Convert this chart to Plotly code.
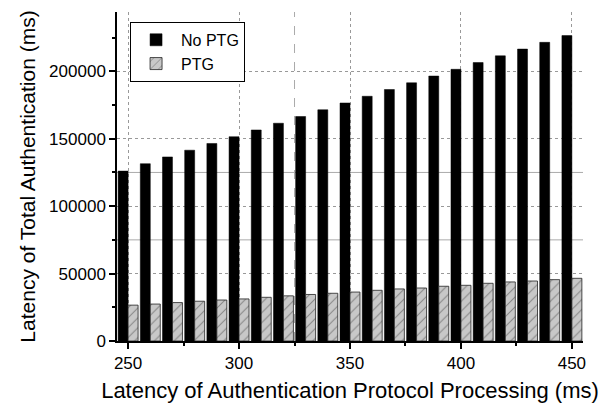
import plotly.graph_objects as go

x_vals = [250, 260, 270, 280, 290, 300, 310, 320, 330, 340, 350,
          360, 370, 380, 390, 400, 410, 420, 430, 440, 450]
no_ptg = [126000, 131500, 136500, 141500, 146500, 151500, 156500, 161500,
          166500, 171500, 176500, 181500, 186500, 191500, 196500, 201500,
          206500, 211500, 216500, 221500, 226500]
ptg = [26600, 27400, 28500, 29500, 30400, 31200, 32400, 33500, 34500,
       35400, 36300, 37600, 38600, 39300, 40600, 41300, 42800, 43800,
       44500, 45500, 46500]

x_ticks = [250, 300, 350, 400, 450]
y_ticks = [0, 50000, 100000, 150000, 200000]

FONT = "Liberation Sans"

fig = go.Figure()
fig.add_trace(go.Bar(
    x=x_vals, y=no_ptg, name="No PTG",
    marker=dict(color="black", line=dict(color="black", width=0.5)),
))
fig.add_trace(go.Bar(
    x=x_vals, y=ptg, name="PTG",
    marker=dict(
        color="#c8c8c8",
        line=dict(color="#222222", width=0.8),
        pattern=dict(shape="/", fgcolor="#444444", bgcolor="#c8c8c8",
                     size=7, solidity=0.15, fillmode="overlay"),
    ),
))

# extra faint reference lines seen in the original
for yv in [75000, 125000]:
    fig.add_shape(type="line", xref="paper", x0=0, x1=1, yref="y", y0=yv, y1=yv,
                  line=dict(color="#aaaaaa", width=1), layer="below")
fig.add_shape(type="line", xref="x", x0=325, x1=325, yref="paper", y0=0, y1=1,
              line=dict(color="#aaaaaa", width=1, dash="dash"), layer="below")

fig.update_layout(
    width=602, height=395,
    margin=dict(l=109, r=27, t=4, b=62, autoexpand=False),
    paper_bgcolor="white", plot_bgcolor="white",
    barmode="group", bargap=0.1, bargroupgap=0,
    font=dict(family=FONT, color="black", size=17),
    showlegend=True,
    legend=dict(
        x=0.028, y=0.97, xanchor="left", yanchor="top",
        bordercolor="black", borderwidth=1, bgcolor="white",
        font=dict(size=16, family=FONT), tracegroupgap=0,
        itemwidth=40,
    ),
    xaxis=dict(
        range=[245, 455],
        tickvals=x_ticks, ticktext=[str(v) for v in x_ticks],
        ticks="outside", ticklen=6, tickwidth=1.5, tickcolor="black",
        showline=True, linecolor="black", linewidth=1.5,
        showgrid=True, gridcolor="#999999", griddash="dot", gridwidth=1,
        minor=dict(dtick=25, tick0=250, ticks="outside", ticklen=3,
                   tickcolor="black", showgrid=False),
        zeroline=False, automargin=False,
        tickfont=dict(size=17),
        title=dict(text="Latency of Authentication Protocol Processing (ms)",
                   font=dict(size=22), standoff=12),
    ),
    yaxis=dict(
        range=[0, 244000],
        tickvals=y_ticks, ticktext=[str(v) for v in y_ticks],
        ticks="outside", ticklen=6, tickwidth=1.5, tickcolor="black",
        showline=True, linecolor="black", linewidth=1.5,
        showgrid=True, gridcolor="#999999", griddash="dot", gridwidth=1,
        minor=dict(dtick=25000, tick0=0, ticks="outside", ticklen=3,
                   tickcolor="black", showgrid=False),
        zeroline=False, automargin=False,
        tickfont=dict(size=17),
        title=dict(text="Latency of Total Authentication (ms)",
                   font=dict(size=21), standoff=8),
    ),
)

fig.write_html("out.html")
